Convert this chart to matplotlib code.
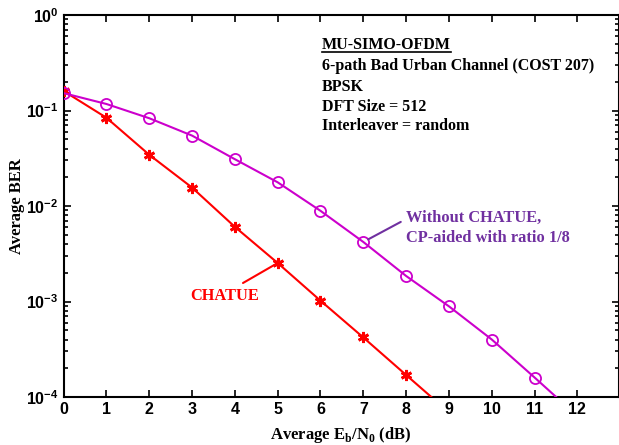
import matplotlib
matplotlib.use("Agg")
import matplotlib.pyplot as plt
from matplotlib.ticker import LogLocator, FixedLocator, NullFormatter

snr = [0, 1, 2, 3, 4, 5, 6, 7, 8, 9, 10, 11, 12]
ber_chatue = [0.160, 0.084, 0.0344, 0.0156, 0.00605, 0.00253, 0.00102, 4.2e-4, 1.7e-4, 6.9e-5]
ber_cp = [0.152, 0.117, 0.083, 0.0546, 0.0309, 0.0177, 0.0089, 0.0042, 0.00185, 8.9e-4, 4.0e-4, 1.6e-4, 6.3e-5]
x_ticks = list(range(0, 13))
info_lines = ["MU-SIMO-OFDM", "6-path Bad Urban Channel (COST 207)", "BPSK",
              "DFT Size = 512", "Interleaver = random"]

W, H = 619, 445
fig = plt.figure(figsize=(W/100, H/100), dpi=100)
ax = fig.add_axes([63.6/W, 1-397/H, (618.5-63.6)/W, (397-15)/H])

red = "#ff0000"
purple = "#cc00cc"
txt_purple = "#7030a0"

ax.plot(snr[:len(ber_chatue)], ber_chatue, color=red, lw=1.5, marker=(6, 2, 0),
        ms=8, mec=red, mfc=red, mew=2.0, clip_on=True, zorder=3)
ax.plot(snr[:len(ber_cp)], ber_cp, color=purple, lw=1.5, marker="o",
        ms=8, mec=purple, mfc="none", mew=1.3, clip_on=True, zorder=3)

ax.set_yscale("log")
ax.set_xlim(0, 12.96)
ax.set_ylim(1e-4, 1)
ax.xaxis.set_major_locator(FixedLocator(x_ticks))
ax.yaxis.set_major_locator(LogLocator(base=10, numticks=10))
ax.yaxis.set_minor_locator(LogLocator(base=10, subs=range(2, 10), numticks=10))
ax.yaxis.set_minor_formatter(NullFormatter())

ax.tick_params(which="both", direction="in", top=True, right=True,
               width=1.2, colors="black")
ax.tick_params(which="major", length=5)
ax.tick_params(which="minor", length=3)
for lab in ax.get_xticklabels() + ax.get_yticklabels():
    lab.set_fontfamily("Liberation Sans")
    lab.set_fontweight("bold")
    lab.set_fontsize(11.5)
for s in ax.spines.values():
    s.set_linewidth(1.5)

serif = "Liberation Serif"
ax.set_ylabel("Average BER", fontfamily=serif, fontweight="bold", fontsize=12)
ax.yaxis.set_label_coords((25 - 63.6) / (618.5 - 63.6), 0.5)
ax.set_xlabel(r"Average E$_\mathdefault{b}$/N$_\mathdefault{0}$ (dB)",
              fontfamily=serif, fontweight="bold", fontsize=12, labelpad=6)

# info text box
ys = [45, 66, 87, 107, 126]
for i, (line, y) in enumerate(zip(info_lines, ys)):
    t = fig.text(322/W, 1-y/H, line, fontfamily=serif, fontweight="bold",
                 fontsize=11.5, color="black", va="center", ha="left")
fig.canvas.draw()
bb = fig.texts[0].get_window_extent()
fig.add_artist(plt.Line2D([bb.x0/W, bb.x1/W], [(bb.y0+1)/H, (bb.y0+1)/H],
                          color="black", lw=1.2))

# annotations
ax.annotate("Without CHATUE,\nCP-aided with ratio 1/8",
            xy=(7.0, 0.0042), xycoords="data",
            xytext=(406/W, 1-228/H), textcoords="figure fraction",
            color=txt_purple, fontfamily=serif, fontweight="bold", fontsize=11.8,
            ha="left", va="center", linespacing=1.3,
            arrowprops=dict(arrowstyle="-", color=txt_purple, lw=1.5,
                            shrinkA=2, shrinkB=4,
                            relpos=(0.0, 0.75)))
ax.annotate("CHATUE", xy=(5.0, 0.00253), xycoords="data",
            xytext=(190/W, 1-296/H), textcoords="figure fraction",
            color=red, fontfamily=serif, fontweight="bold", fontsize=11.8,
            ha="left", va="center")
ax.annotate("", xy=(5.0, 0.00253), xycoords="data",
            xytext=(243/W, 1-283/H), textcoords="figure fraction",
            arrowprops=dict(arrowstyle="-", color=red, lw=1.5, shrinkA=0, shrinkB=0))

fig.savefig("out.png", dpi=100)
